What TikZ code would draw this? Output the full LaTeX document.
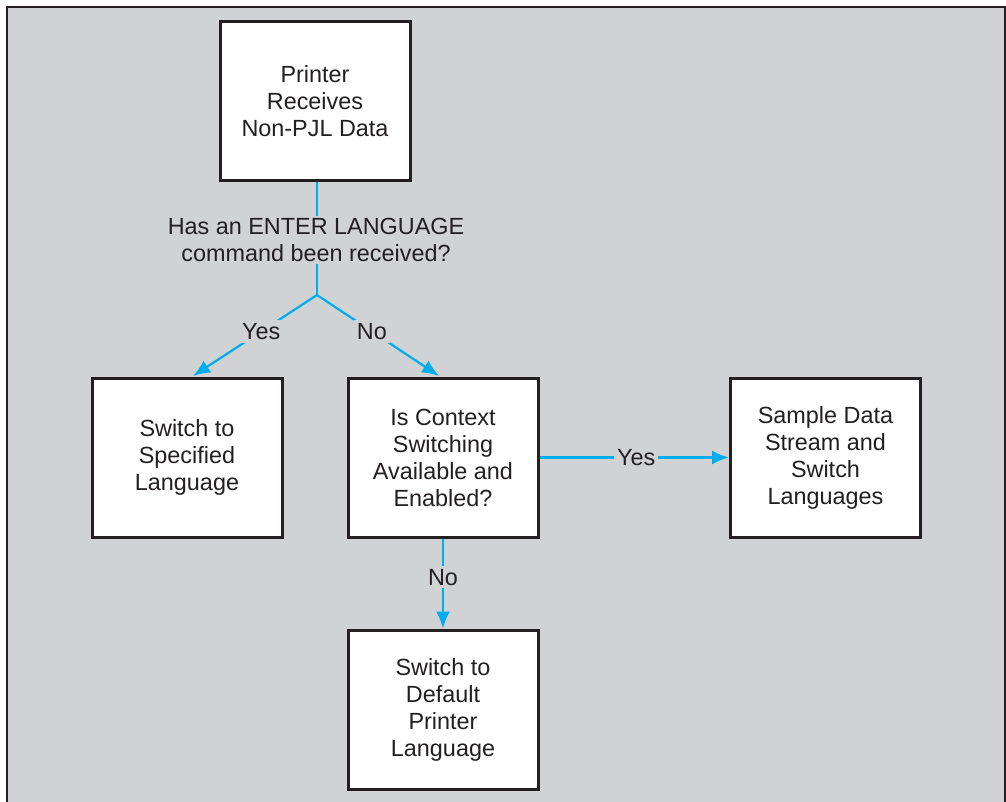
\documentclass[tikz,border=0pt]{standalone}
\usepackage{fontspec}
\setmainfont{Liberation Sans}
\usetikzlibrary{arrows.meta}
\definecolor{bggray}{HTML}{D1D2D4}
\definecolor{linecyan}{HTML}{00AEEF}
\definecolor{boxline}{HTML}{231F20}
\begin{document}
\begin{tikzpicture}[x=1pt,y=-1pt,
  every node/.style={font=\fontsize{23.4}{27}\selectfont, text=boxline},
  stepbox/.style={draw=boxline, fill=white, line width=3pt, minimum width=190pt, minimum height=159pt, inner sep=0pt, align=center},
  flow/.style={draw=linecyan, line width=2.2pt},
  arr/.style={flow, -{Latex[length=17pt,width=14pt]}},
  lbl/.style={fill=bggray, inner sep=3pt}]
\useasboundingbox (0,0) rectangle (1006,801);
\draw[fill=bggray, draw=boxline, line width=2.5pt] (7,7) rectangle (1005,820);

\node[stepbox] (start) at (315,101) {Printer\\Receives\\Non-PJL Data};
\node[align=center, inner sep=2pt] (q) at (316,240) {Has an ENTER LANGUAGE\\command been received?};
\coordinate (br) at (317,295);
\node[stepbox] (spec) at (187,457.5) {Switch to\\Specified\\Language};
\node[stepbox] (ctx) at (443,457.5) {Is Context\\Switching\\Available and\\Enabled?};
\node[stepbox] (samp) at (825.5,457.5) {Sample Data\\Stream and\\Switch\\Languages};
\node[stepbox] (def) at (443,709.5) {Switch to\\Default\\Printer\\Language};

\draw[flow] (start.south -| br) -- (q.north -| br);
\draw[flow] (q.south -| br) -- (br);
\draw[arr] (br) -- node[lbl, pos=0.45] {Yes} (193,376) coordinate (spectop);
\draw[arr] (br) -- node[lbl, pos=0.45] {No} (439,376) coordinate (ctxtop);
\draw[arr] (ctx.east) -- node[lbl, pos=0.51] {Yes} (samp.west);
\draw[arr] (ctx.south) -- node[lbl, pos=0.43] {No} (def.north);
\end{tikzpicture}
\end{document}
